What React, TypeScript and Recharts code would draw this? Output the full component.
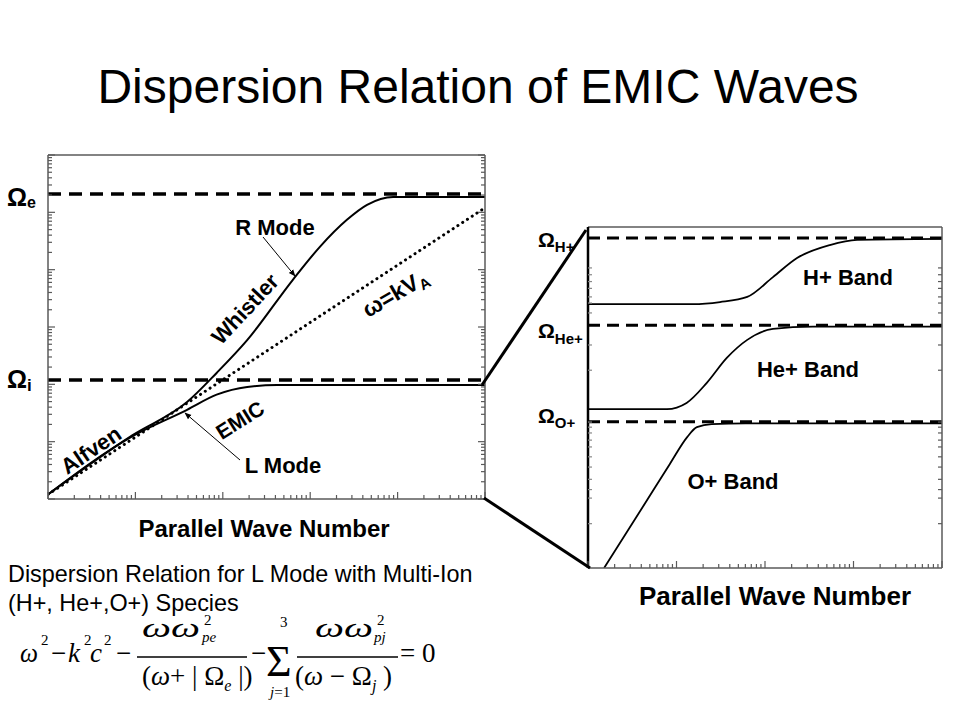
import React from "react";
import { LineChart, Line, XAxis, YAxis, ReferenceLine } from "recharts";

const SANS = "'Liberation Sans', Arial, sans-serif";
const SERIF = "'Liberation Serif', 'Times New Roman', serif";
const BOX = "#5a5a5a";

// left panel: log k vs log omega
const OMEGA_E = 209000;
const OMEGA_I = 119;
const rModeK = [1, 9.3, 39, 85, 190, 630, 1290, 2630, 4470, 8900, 100000];
const rModeW = [1.2, 13, 49, 158, 590, 6600, 25000, 74000, 135000, 185000, 185000];
const lModeK = [1, 9.3, 39, 85, 190, 417, 100000];
const lModeW = [1.2, 12.5, 36, 66, 90, 97, 97];
const alfvenK = [1, 100000];
const alfvenW = [1.2, 120000];

// right panel: multi-ion bands (log k, normalised frequency)
const OMEGA_H = 96.8;
const OMEGA_HE = 71.2;
const OMEGA_O = 42.9;
const hBandK = [1, 15.4, 31, 63, 123, 230, 540, 1100, 10000];
const hBandW = [77.4, 77.4, 78.0, 79.5, 85.3, 90.9, 94.7, 96.2, 96.5];
const heBandK = [1, 7.8, 13, 22, 37, 63, 123, 347, 10000];
const heBandW = [46.6, 46.6, 48.4, 54.3, 61.6, 66.9, 70.1, 70.8, 70.8];
const oBandK = [1.52, 4.47, 8.45, 13.2, 17, 25, 60, 10000];
const oBandW = [0, 19.2, 30.6, 38.4, 41.3, 42.2, 42.4, 42.4];
const rightYTicks = [13, 20.5, 23, 26, 29.6, 32.6, 35.5, 37.5, 39.6, 41.3, 42.8, 58, 65.4, 74.8, 77.7, 79.5, 82, 84, 86, 88];

const toRows = (k: number[], w: number[]) => k.map((v, i) => ({ k: v, w: w[i] }));

function logTicks(lo: number, hi: number) {
  const out: number[] = [];
  for (let d = lo; d < hi; d *= 10) for (let n = 1; n < 10; n++) out.push(d * n);
  out.push(hi);
  return out;
}
const isDecade = (v: number) => Math.abs(Math.log10(v) - Math.round(Math.log10(v))) < 1e-6;

type Side = "bottom" | "top" | "left" | "right";
const tickFor = (side: Side, major: (v: number) => boolean, stroke = BOX) => (p: any) => {
  const len = major(p.payload.value) ? 7 : 4;
  const dx = side === "left" ? len : side === "right" ? -len : 0;
  const dy = side === "bottom" ? -len : side === "top" ? len : 0;
  return <line x1={p.x} y1={p.y} x2={p.x + dx} y2={p.y + dy} stroke={stroke} strokeWidth={1.2} />;
};

const axisCommon = { tickSize: 0, tickMargin: 0, interval: 0 as const, allowDataOverflow: true };
const MARGIN = { top: 3, right: 3, bottom: 3, left: 3 };

function LeftChart() {
  const xTicks = logTicks(1, 100000);
  const yTicks = logTicks(1, 1000000);
  return (
    <LineChart width={445} height={352} margin={MARGIN}>
      <XAxis dataKey="k" type="number" scale="log" domain={[1, 100000]} ticks={xTicks} height={1}
        axisLine={{ stroke: BOX, strokeWidth: 1.5 }} tick={tickFor("bottom", isDecade)} {...axisCommon} />
      <XAxis xAxisId="top" orientation="top" type="number" scale="log" domain={[1, 100000]} ticks={xTicks} height={1}
        axisLine={{ stroke: BOX, strokeWidth: 1.5 }} tick={tickFor("top", isDecade)} {...axisCommon} />
      <YAxis type="number" scale="log" domain={[1, 1000000]} ticks={yTicks} width={1}
        axisLine={{ stroke: BOX, strokeWidth: 1.5 }} tick={tickFor("left", isDecade)} {...axisCommon} />
      <YAxis yAxisId="right" orientation="right" type="number" scale="log" domain={[1, 1000000]} ticks={yTicks} width={1}
        axisLine={{ stroke: BOX, strokeWidth: 1.5 }} tick={tickFor("right", isDecade)} {...axisCommon} />
      <ReferenceLine y={OMEGA_E} stroke="#000" strokeWidth={3.5} strokeDasharray="13 8" />
      <ReferenceLine y={OMEGA_I} stroke="#000" strokeWidth={3.5} strokeDasharray="13 8" />
      <Line data={toRows(alfvenK, alfvenW)} dataKey="w" type="linear" stroke="#000" strokeWidth={3}
        strokeDasharray="0.1 5.6" strokeLinecap="round" dot={false} isAnimationActive={false} />
      <Line data={toRows(rModeK, rModeW)} dataKey="w" type="monotone" stroke="#000" strokeWidth={2} dot={false} isAnimationActive={false} />
      <Line data={toRows(lModeK, lModeW)} dataKey="w" type="monotone" stroke="#000" strokeWidth={2} dot={false} isAnimationActive={false} />
    </LineChart>
  );
}

function RightChart() {
  const xTicks = logTicks(1, 10000);
  const noMajor = () => false;
  return (
    <LineChart width={362} height={349} margin={MARGIN}>
      <XAxis dataKey="k" type="number" scale="log" domain={[1, 10000]} ticks={xTicks} height={1}
        axisLine={{ stroke: BOX, strokeWidth: 1.5 }} tick={tickFor("bottom", isDecade)} {...axisCommon} />
      <XAxis xAxisId="top" orientation="top" type="number" scale="log" domain={[1, 10000]} ticks={xTicks} height={1}
        axisLine={{ stroke: BOX, strokeWidth: 1.5 }} tick={tickFor("top", isDecade)} {...axisCommon} />
      <YAxis type="number" domain={[0, 100]} ticks={rightYTicks} width={1}
        axisLine={{ stroke: "#000", strokeWidth: 2.5 }} tick={tickFor("left", noMajor, "#888")} {...axisCommon} />
      <YAxis yAxisId="right" orientation="right" type="number" domain={[0, 100]} ticks={rightYTicks} width={1}
        axisLine={{ stroke: BOX, strokeWidth: 1.5 }} tick={tickFor("right", noMajor)} {...axisCommon} />
      <ReferenceLine y={OMEGA_H} stroke="#000" strokeWidth={3} strokeDasharray="12 7" />
      <ReferenceLine y={OMEGA_HE} stroke="#000" strokeWidth={3} strokeDasharray="12 7" />
      <ReferenceLine y={OMEGA_O} stroke="#000" strokeWidth={3} strokeDasharray="12 7" />
      <Line data={toRows(hBandK, hBandW)} dataKey="w" type="monotone" stroke="#000" strokeWidth={1.8} dot={false} isAnimationActive={false} />
      <Line data={toRows(heBandK, heBandW)} dataKey="w" type="monotone" stroke="#000" strokeWidth={1.8} dot={false} isAnimationActive={false} />
      <Line data={toRows(oBandK, oBandW)} dataKey="w" type="monotone" stroke="#000" strokeWidth={1.8} dot={false} isAnimationActive={false} />
    </LineChart>
  );
}

function Omega({ x, y, sub, size, subSize, dy = 2 }: { x: number; y: number; sub: string; size: number; subSize: number; dy?: number }) {
  return (
    <text x={x} y={y} fontFamily={SANS} fontWeight="bold" fontSize={size}>
      Ω<tspan fontSize={subSize} dy={dy}>{sub}</tspan>
    </text>
  );
}

function Rotated({ x, y, angle, size, children }: { x: number; y: number; angle: number; size: number; children: React.ReactNode }) {
  return (
    <text x={x} y={y} transform={`rotate(${angle} ${x} ${y})`} textAnchor="middle" dominantBaseline="central"
      fontFamily={SANS} fontWeight="bold" fontSize={size}>
      {children}
    </text>
  );
}

function Equation() {
  const it = { fontStyle: "italic" as const };
  return (
    <g fontFamily={SERIF} fontSize={27} fill="#000">
      <text x={20} y={662} {...it} textLength={18} lengthAdjust="spacingAndGlyphs">ω</text>
      <text x={41} y={645} fontSize={15}>2</text>
      <text x={51} y={662}>−</text>
      <text x={68} y={662} {...it}>k</text>
      <text x={84} y={645} fontSize={15}>2</text>
      <text x={90} y={662} {...it}>c</text>
      <text x={104} y={645} fontSize={15}>2</text>
      <text x={116} y={662}>−</text>
      <line x1={137} x2={247} y1={657} y2={657} stroke="#000" strokeWidth={1.3} />
      <text x={142} y={637} {...it} textLength={58} lengthAdjust="spacingAndGlyphs">ωω</text>
      <text x={204} y={625} fontSize={15}>2</text>
      <text x={202} y={642} fontSize={15} {...it}>pe</text>
      <text x={142} y={685}>(<tspan {...it}>ω</tspan>+ | Ω<tspan fontSize={16} dy={6} {...it}>e</tspan><tspan dy={-6}> |)</tspan></text>
      <text x={251} y={662}>−</text>
      <text x={266} y={676} fontSize={44}>Σ</text>
      <text x={280} y={627} fontSize={15}>3</text>
      <text x={270} y={697} fontSize={15}><tspan {...it}>j</tspan>=1</text>
      <line x1={297} x2={398} y1={657} y2={657} stroke="#000" strokeWidth={1.3} />
      <text x={315} y={637} {...it} textLength={58} lengthAdjust="spacingAndGlyphs">ωω</text>
      <text x={377} y={625} fontSize={15}>2</text>
      <text x={374} y={642} fontSize={15} {...it}>pj</text>
      <text x={295} y={685}>(<tspan {...it}>ω</tspan> − Ω<tspan fontSize={16} dy={6} {...it}>j</tspan><tspan dy={-6}> )</tspan></text>
      <text x={400} y={662}>= 0</text>
    </g>
  );
}

export default function App() {
  return (
    <div style={{ position: "absolute", left: 0, top: 0, width: 960, height: 720, background: "#fff", overflow: "hidden" }}>
      <div style={{ position: "absolute", left: 44, top: 151 }}>
        <LeftChart />
      </div>
      <div style={{ position: "absolute", left: 584, top: 223 }}>
        <RightChart />
      </div>
      <svg width={960} height={720} style={{ position: "absolute", left: 0, top: 0, pointerEvents: "none" }}>
        <defs>
          <marker id="arr" viewBox="0 0 10 10" refX="9" refY="5" markerWidth="7" markerHeight="7" orient="auto">
            <path d="M0,1 L10,5 L0,9 z" fill="#000" />
          </marker>
        </defs>
        <text x={478} y={103} textAnchor="middle" fontFamily={SANS} fontSize={48}>Dispersion Relation of EMIC Waves</text>

        <Omega x={7} y={206} sub="e" size={25} subSize={16} />
        <Omega x={7} y={388} sub="i" size={25} subSize={17} dy={3} />
        <Omega x={538} y={247} sub="H+" size={21} subSize={15} dy={5} />
        <Omega x={538} y={338} sub="He+" size={21} subSize={15} dy={6} />
        <Omega x={538} y={423} sub="O+" size={21} subSize={15} dy={5} />

        <text x={275} y={235} textAnchor="middle" fontFamily={SANS} fontWeight="bold" fontSize={22}>R Mode</text>
        <text x={283} y={473} textAnchor="middle" fontFamily={SANS} fontWeight="bold" fontSize={22}>L Mode</text>
        <line x1={263} y1={237} x2={295} y2={276} stroke="#000" strokeWidth={1} markerEnd="url(#arr)" />
        <line x1={240} y1={460} x2={185} y2={413} stroke="#000" strokeWidth={1} markerEnd="url(#arr)" />
        <Rotated x={245} y={309} angle={-47} size={22}>Whistler</Rotated>
        <Rotated x={395} y={293} angle={-30} size={23}>ω=kV<tspan fontSize={15} dy={6}>A</tspan></Rotated>
        <Rotated x={91} y={450} angle={-34} size={22}>Alfven</Rotated>
        <Rotated x={240} y={420} angle={-32} size={21}>EMIC</Rotated>

        <text x={264} y={537} textAnchor="middle" fontFamily={SANS} fontWeight="bold" fontSize={24}>Parallel Wave Number</text>
        <text x={775} y={605} textAnchor="middle" fontFamily={SANS} fontWeight="bold" fontSize={26}>Parallel Wave Number</text>

        <text x={848} y={285} textAnchor="middle" fontFamily={SANS} fontWeight="bold" fontSize={22}>H+ Band</text>
        <text x={808} y={377} textAnchor="middle" fontFamily={SANS} fontWeight="bold" fontSize={22}>He+ Band</text>
        <text x={733} y={489} textAnchor="middle" fontFamily={SANS} fontWeight="bold" fontSize={22}>O+ Band</text>

        <line x1={482} y1={385} x2={586} y2={230} stroke="#000" strokeWidth={3} />
        <line x1={484} y1={498} x2={590} y2={568} stroke="#000" strokeWidth={3} />

        <text x={8} y={582} fontFamily={SANS} fontSize={23.4}>Dispersion Relation for L Mode with Multi-Ion</text>
        <text x={8} y={611} fontFamily={SANS} fontSize={23.4}>(H+, He+,O+) Species</text>
        <Equation />
      </svg>
    </div>
  );
}
